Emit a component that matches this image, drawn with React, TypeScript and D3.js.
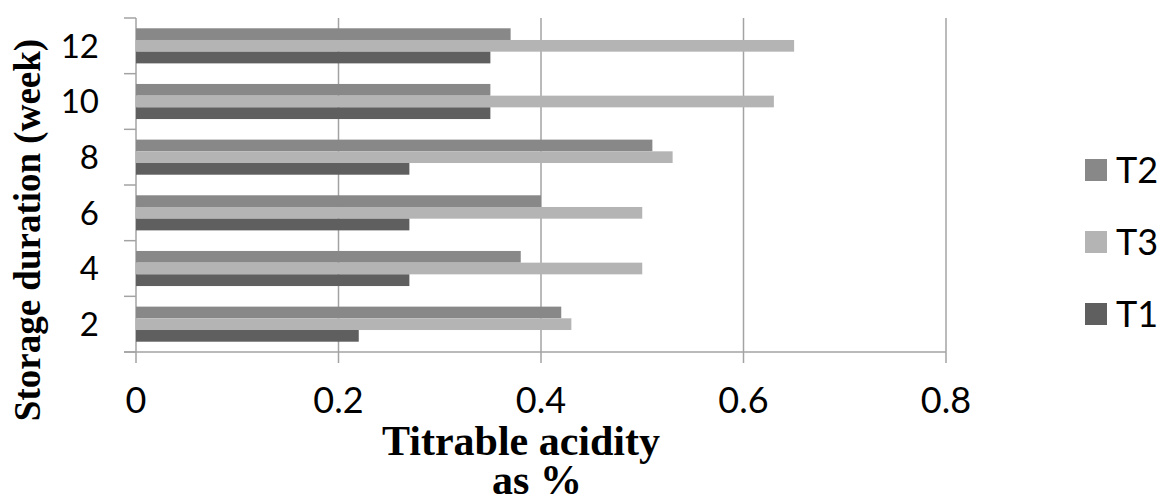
import React from "react";
import * as d3 from "d3";

// weeks of storage, bottom to top
const weeks = ["2", "4", "6", "8", "10", "12"];
// order of bars within a band, top to bottom (as drawn / legend)
const seriesNames = ["T2", "T3", "T1"];
const T1 = [0.22, 0.27, 0.27, 0.27, 0.35, 0.35];
const T2 = [0.42, 0.38, 0.4, 0.51, 0.35, 0.37];
const T3 = [0.43, 0.5, 0.5, 0.53, 0.63, 0.65];
const xTicks = [0, 0.2, 0.4, 0.6, 0.8];

const seriesValues: Record<string, number[]> = { T1, T2, T3 };
const colors: Record<string, string> = { T2: "#888888", T3: "#b4b4b4", T1: "#5f5f5f" };

export default function App() {
  const svgWidth = 1162;
  const svgHeight = 503;
  const margin = { top: 18, left: 136, right: 216, bottom: 151 };
  const plotRight = svgWidth - margin.right;
  const plotBottom = svgHeight - margin.bottom;

  const x = d3.scaleLinear().domain([0, 0.8]).range([margin.left, plotRight]);
  const yCat = d3.scaleBand().domain(weeks).range([plotBottom, margin.top]);
  const ySer = d3
    .scaleBand()
    .domain(seriesNames)
    .range([0, yCat.bandwidth()])
    .paddingInner(0)
    .paddingOuter(0.88);

  const gridColor = "#a3a3a3";
  const boundaries = weeks.map((w) => yCat(w)!).concat([plotBottom]);

  return (
    <svg
      width={svgWidth}
      height={svgHeight}
      style={{ position: "absolute", left: 0, top: 0, background: "#fff" }}
    >
      {/* vertical grid */}
      {xTicks.map((t) => (
        <line key={"g" + t} x1={x(t)} x2={x(t)} y1={margin.top} y2={plotBottom + 11} stroke={gridColor} strokeWidth={1.5} />
      ))}
      {/* category ticks */}
      {boundaries.map((b, i) => (
        <line key={"t" + i} x1={margin.left - 12} x2={margin.left} y1={b} y2={b} stroke={gridColor} strokeWidth={1.5} />
      ))}
      <line x1={margin.left - 12} x2={plotRight} y1={plotBottom} y2={plotBottom} stroke={gridColor} strokeWidth={1.5} />

      {/* bars */}
      {weeks.map((w, i) => (
        <g key={w} transform={`translate(0,${yCat(w)})`}>
          {seriesNames.map((s) => (
            <rect
              key={s}
              x={x(0)}
              y={ySer(s)}
              width={x(seriesValues[s][i]) - x(0)}
              height={ySer.bandwidth()}
              fill={colors[s]}
            />
          ))}
        </g>
      ))}

      {/* y tick labels */}
      {weeks.map((w) => (
        <text
          key={"yl" + w}
          x={99}
          y={yCat(w)! + yCat.bandwidth() / 2}
          dy="0.36em"
          textAnchor="end"
          fontFamily="Lato"
          fontSize={33}
          fill="#000"
        >
          {w}
        </text>
      ))}

      {/* x tick labels */}
      {xTicks.map((t) => (
        <text key={"xl" + t} x={x(t)} y={413} textAnchor="middle" fontFamily="Lato" fontSize={36} fill="#000">
          {t === 0 ? "0" : String(t)}
        </text>
      ))}

      {/* axis titles */}
      <text x={521} y={455} textAnchor="middle" fontFamily="Liberation Serif" fontWeight="bold" fontSize={42}>
        Titrable acidity
      </text>
      <text x={537} y={494} textAnchor="middle" fontFamily="Liberation Serif" fontWeight="bold" fontSize={42}>
        as %
      </text>
      <text
        transform="translate(40,230) rotate(-90)"
        textAnchor="middle"
        fontFamily="Liberation Serif"
        fontWeight="bold"
        fontSize={37}
      >
        Storage duration (week)
      </text>

      {/* legend */}
      {seriesNames.map((s, i) => {
        const cy = 170 + i * 72;
        return (
          <g key={"lg" + s}>
            <rect x={1085} y={cy - 11} width={22} height={22} fill={colors[s]} />
            <text x={1116} y={cy} dy="0.36em" fontFamily="Lato" fontSize={36} fill="#000">
              {s}
            </text>
          </g>
        );
      })}
    </svg>
  );
}
